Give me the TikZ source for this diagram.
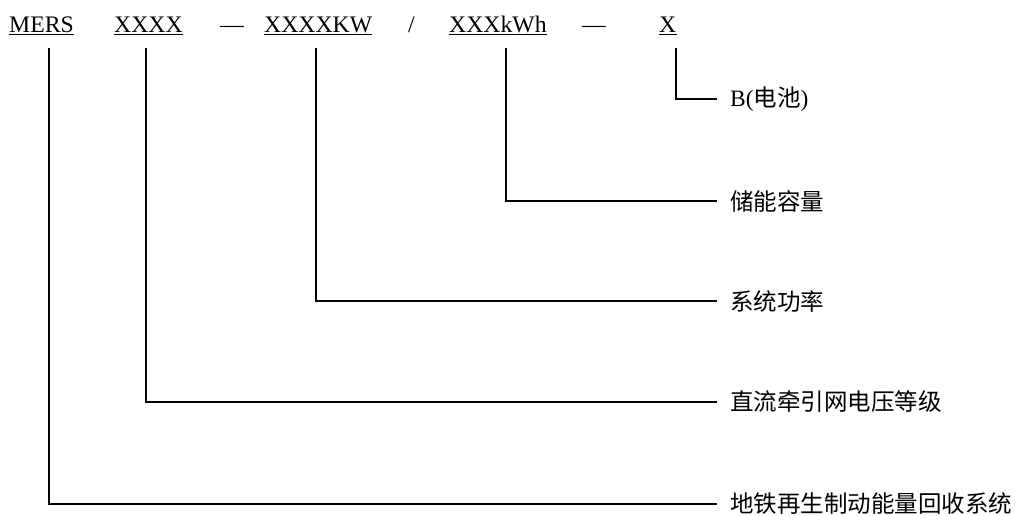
\documentclass[tikz,border=0pt]{standalone}
\usepackage{fontspec}
\setmainfont{Liberation Serif}
\newfontfamily\cjk{Noto Sans CJK SC}
\begin{document}
\begin{tikzpicture}[x=1pt,y=-1pt,
  code/.style={inner sep=0pt,anchor=base west,font=\fontsize{23.7}{28}\selectfont},
  lbl/.style={inner ysep=0pt,inner xsep=13pt,anchor=west,font=\fontsize{23.5}{28}\selectfont},
  conn/.style={line width=2pt},
  uline/.style={line width=1.3pt}]
\useasboundingbox (0,0) rectangle (1021,515);
% code parts
\node[code] (mers) at (9,32) {MERS};
\node[code] (v) at (114,32) {XXXX};
\node[code] (d1) at (220,32) {—};
\node[code] (p) at (264,32) {XXXXKW};
\node[code] (sl) at (408,32) {/};
\node[code] (e) at (449,32) {XXXkWh};
\node[code] (d2) at (582,32) {—};
\node[code] (x) at (659,32) {X};
% underlines
\foreach \n in {mers,v,p,e,x}
  \draw[uline] ([yshift=-2.2pt]\n.base west) -- ([yshift=-2.2pt]\n.base east);
% labels
\node[lbl] (lx) at (717,99) {B({\cjk 电池})};
\node[lbl] (le) at (717,201) {\cjk 储能容量};
\node[lbl] (lp) at (717,301) {\cjk 系统功率};
\node[lbl] (lv) at (717,402) {\cjk 直流牵引网电压等级};
\node[lbl] (lm) at (717,504) {\cjk 地铁再生制动能量回收系统};
% connector tops
\coordinate (tm) at (49,48);
\coordinate (tv) at (146,48);
\coordinate (tp) at (316,48);
\coordinate (te) at (506,48);
\coordinate (tx) at (676,48);
% connectors
\draw[conn] (tm) |- (lm.west);
\draw[conn] (tv) |- (lv.west);
\draw[conn] (tp) |- (lp.west);
\draw[conn] (te) |- (le.west);
\draw[conn] (tx) |- (lx.west);
\end{tikzpicture}
\end{document}
